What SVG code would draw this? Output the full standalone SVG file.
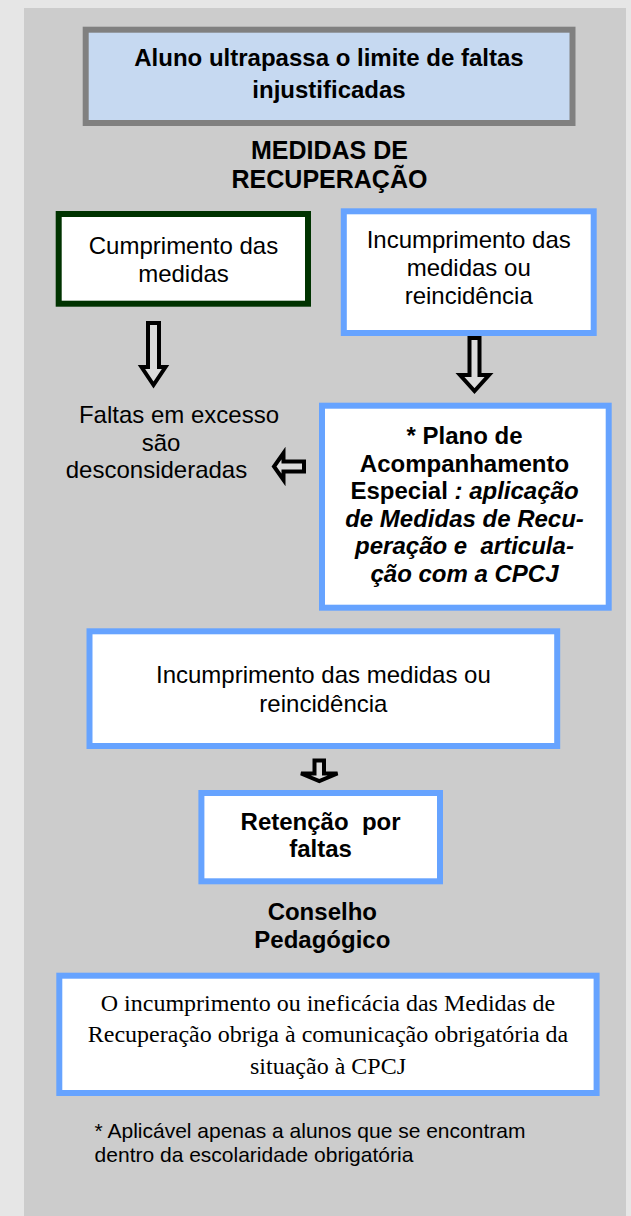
<svg xmlns="http://www.w3.org/2000/svg" width="631" height="1216" viewBox="0 0 631 1216">
<style>
.t{font-family:"Liberation Sans",Arial,sans-serif;font-size:24px;fill:#000;text-anchor:middle}
.b{font-weight:bold}
.i{font-style:italic}
.tm{font-family:"Liberation Serif","Times New Roman",serif;font-size:24px;fill:#000;text-anchor:middle}
.blue{fill:#fff;stroke:#66a3ff;stroke-width:6}
.arr{fill:#dcdcdc;stroke:#000;stroke-width:4;stroke-linejoin:miter}
.pre{white-space:pre}
</style>
<rect x="0" y="0" width="631" height="1216" fill="#e6e6e6"/>
<rect x="24" y="8" width="602" height="1208" fill="#cccccc"/>

<g id="n-start">
<rect x="85.7" y="29.7" width="486.8" height="93.3" fill="#c6d9f1" stroke="#808080" stroke-width="6"/>
<text class="t b" x="329" y="65.5">Aluno ultrapassa o limite de faltas</text>
<text class="t b" x="329" y="97.5">injustificadas</text>
</g>

<g id="n-title">
<text class="t b" style="font-size:25px" x="329.5" y="159">MEDIDAS DE</text>
<text class="t b" style="font-size:25px" x="329.5" y="188">RECUPERAÇÃO</text>
</g>

<g id="n-cumprimento">
<rect x="58.7" y="214" width="249.3" height="89.7" fill="#fff" stroke="#003300" stroke-width="6"/>
<text class="t" x="183.5" y="254">Cumprimento das</text>
<text class="t" x="183.5" y="282">medidas</text>
</g>

<g id="n-incumprimento1">
<rect class="blue" x="343.8" y="211.3" width="249.9" height="121.7"/>
<text class="t" x="468.7" y="248">Incumprimento das</text>
<text class="t" x="468.7" y="276">medidas ou</text>
<text class="t" x="468.7" y="304">reincidência</text>
</g>

<g id="n-faltas">
<text class="t" x="179" y="422.5">Faltas em excesso</text>
<text class="t" x="161" y="450.5">são</text>
<text class="t" x="156.5" y="478">desconsideradas</text>
</g>

<g id="n-plano">
<rect class="blue" x="322" y="405.7" width="286.7" height="202"/>
<text class="t b" x="464.5" y="444">* Plano de</text>
<text class="t b" x="464.5" y="471.5">Acompanhamento</text>
<text class="t b" x="464.5" y="499">Especial<tspan class="i"> : aplicação</tspan></text>
<text class="t b i" x="464.5" y="526.5">de Medidas de Recu-</text>
<text class="t b i pre" x="464.5" y="554">peração e  articula-</text>
<text class="t b i" x="464.5" y="581.5">ção com a CPCJ</text>
</g>

<g id="n-incumprimento2">
<rect class="blue" x="89.5" y="631.3" width="467.7" height="114.7"/>
<text class="t" x="323.4" y="683">Incumprimento das medidas ou</text>
<text class="t" x="323.4" y="711.5">reincidência</text>
</g>

<g id="n-retencao">
<rect class="blue" x="201.4" y="793" width="238.6" height="88.3"/>
<text class="t b pre" x="320.6" y="829.5">Retenção  por</text>
<text class="t b" x="320.6" y="857">faltas</text>
</g>

<g id="n-conselho">
<text class="t b" x="322.3" y="919.5">Conselho</text>
<text class="t b" x="322.3" y="947.5">Pedagógico</text>
</g>

<g id="n-comunicacao">
<rect class="blue" x="59.3" y="975.7" width="537.3" height="117.3"/>
<text class="tm" x="328" y="1011">O incumprimento ou ineficácia das Medidas de</text>
<text class="tm" x="328" y="1042">Recuperação obriga à comunicação obrigatória da</text>
<text class="tm" x="328" y="1073.5">situação à CPCJ</text>
</g>

<g id="n-nota">
<text class="t" style="font-size:21px;text-anchor:start" x="94.6" y="1138">* Aplicável apenas a alunos que se encontram</text>
<text class="t" style="font-size:21px;text-anchor:start" x="94.6" y="1161.5">dentro da escolaridade obrigatória</text>
</g>

<g id="connectors">
<polygon class="arr" points="148,323 159,323 159,367 165.5,367 153.5,385 141.5,367 148,367"/>
<polygon class="arr" points="469.5,338 479.5,338 479.5,375 489,375 474.5,391 460,375 469.5,375"/>
<polygon class="arr" points="304,461.5 304,471.5 283.5,471.5 283.5,480 274,466.5 283.5,453 283.5,461.5"/>
<polygon class="arr" points="314.5,760.5 324,760.5 324,773.5 337.5,773.5 319.3,781 301,773.5 314.5,773.5"/>
</g>
</svg>
